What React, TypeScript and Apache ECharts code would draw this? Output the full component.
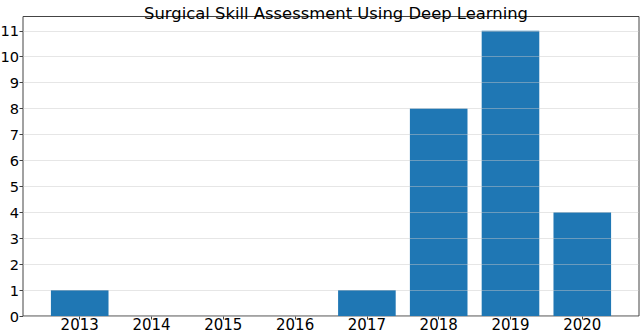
import React, { useEffect, useRef } from "react";
import * as echarts from "echarts";

const years = ["2013", "2014", "2015", "2016", "2017", "2018", "2019", "2020"];
const counts = [1, 0, 0, 0, 1, 8, 11, 4];
const yTicks = [0, 1, 2, 3, 4, 5, 6, 7, 8, 9, 10, 11];
const titleText = "Surgical Skill Assessment Using Deep Learning";

export default function App() {
  const ref = useRef<HTMLDivElement>(null);
  useEffect(() => {
    if (!ref.current) return;
    const chart = echarts.init(ref.current, null, { renderer: "svg" });
    const font = "DejaVu Sans";
    const xIdx = years.map((_, i) => i);
    chart.setOption({
      animation: false,
      backgroundColor: "#ffffff",
      title: {
        text: titleText,
        left: 331,
        textAlign: "center",
        top: 0,
        textStyle: { fontFamily: font, fontSize: 16.4, lineHeight: 16, fontWeight: "normal", color: "#000" },
      },
      grid: {
        left: 23,
        right: 1,
        top: 16.5,
        bottom: 17,
        containLabel: false,
        outerBoundsMode: "none",
        show: true,
        borderColor: "#444",
        borderWidth: 1,
        backgroundColor: "transparent",
      },
      xAxis: {
        type: "value",
        min: -0.79,
        max: 7.79,
        splitLine: { show: false },
        axisLine: { show: false, onZero: false },
        axisTick: { show: true, customValues: xIdx, length: 3.5, inside: false, lineStyle: { color: "#444" } },
        axisLabel: {
          customValues: xIdx,
          formatter: (v: number) => years[Math.round(v)] ?? "",
          fontFamily: font,
          fontSize: 15,
          lineHeight: 14,
          color: "#000",
          margin: 2,
        },
      },
      yAxis: {
        type: "value",
        min: 0,
        max: 11.55,
        interval: 1,
        z: 5,
        axisLine: { show: false, onZero: false },
        axisTick: { show: true, customValues: yTicks, length: 3.5, lineStyle: { color: "#444" } },
        axisLabel: {
          customValues: yTicks,
          formatter: (v: number) => (Number.isInteger(v) ? String(v) : ""),
          fontFamily: font,
          fontSize: 14.6,
          color: "#000",
          margin: 4,
        },
        splitLine: { show: true, lineStyle: { color: "rgba(200,200,200,0.45)", width: 1 } },
      },
      series: [
        {
          type: "bar",
          data: counts.map((c, i) => [i, c]),
          barWidth: 57.6,
          itemStyle: { color: "#1f77b4" },
          z: 2,
        },
      ],
    });
    return () => chart.dispose();
  }, []);
  return (
    <div
      ref={ref}
      style={{ position: "fixed", left: 0, top: 0, width: 640, height: 333 }}
    />
  );
}
